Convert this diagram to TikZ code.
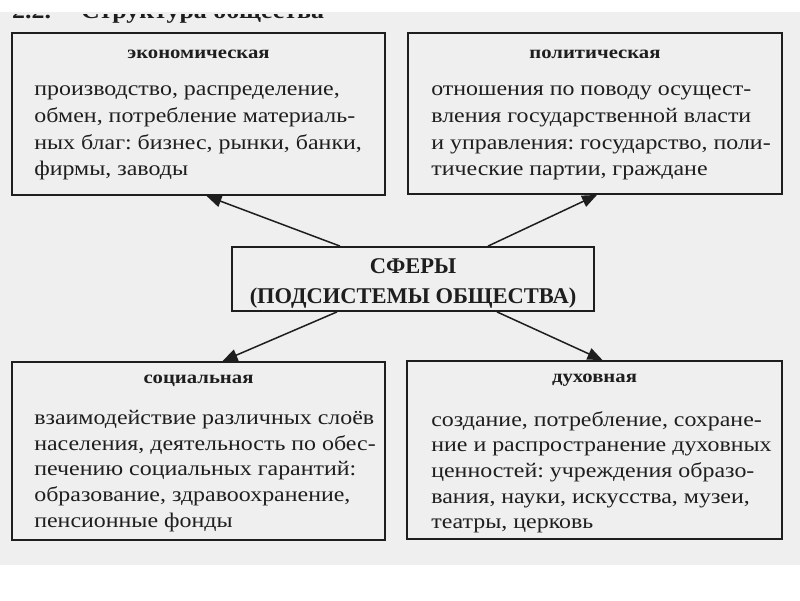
\documentclass[tikz,border=0pt]{standalone}
\usepackage{fontspec}
\setmainfont{Liberation Serif}[FakeStretch=1.15]
\newfontfamily\plainserif{Liberation Serif}
\usetikzlibrary{arrows.meta,calc}
\frenchspacing
\definecolor{ink}{HTML}{1E1E1E}
\definecolor{paper}{HTML}{EFEFEF}
\tikzset{
  sbox/.style={draw=ink, line width=1.8pt, fill=paper, inner sep=0pt},
  btitle/.style={font=\fontsize{18}{20}\selectfont\bfseries, text=ink, inner sep=0pt},
  body/.style={font=\fontsize{20.8}{26.7}\selectfont, text=ink, align=left, anchor=north west, inner sep=0pt},
  bodylow/.style={body, font=\fontsize{20.8}{25.7}\selectfont},
  arr/.style={draw=ink, line width=1.5pt, -{Triangle[length=15pt,width=12pt]}}
}
\begin{document}
\begin{tikzpicture}[x=1pt,y=-1pt]
\useasboundingbox (0,0) rectangle (800,600);
\fill[white] (0,0) rectangle (800,600);
\fill[paper] (0,12) rectangle (800,565);
\begin{scope}
  \clip (0,14) rectangle (800,40);
  \node[anchor=base west, inner sep=0pt, text=ink, font=\fontsize{22.5}{24}\selectfont\bfseries] (title) at (12,18.5) {2.2.\hspace{30pt}Структура общества};
\end{scope}
% boxes
\node[sbox, minimum width=373pt, minimum height=162pt] (econ) at (198.5,114) {};
\node[sbox, minimum width=374pt, minimum height=161pt] (polit) at (595,113.5) {};
\node[sbox, minimum width=362pt, minimum height=64pt] (center) at (413,279) {};
\node[sbox, minimum width=373pt, minimum height=178pt] (social) at (198.5,451) {};
\node[sbox, minimum width=375pt, minimum height=178pt] (spirit) at (594.5,450) {};
% titles
\node[btitle] (econT) at ($(econ.north)+(0,22)$) {экономическая};
\node[btitle] (politT) at ($(polit.north)+(0,22)$) {политическая};
\node[btitle] (socialT) at ($(social.north)+(0,20)$) {социальная};
\node[btitle] (spiritT) at ($(spirit.north)+(0,20)$) {духовная};
% center text
\node[font=\fontsize{22.5}{30}\selectfont\plainserif\bfseries, text=ink, align=center, inner sep=0pt] (centerT) at ($(center.center)+(0,4)$) {СФЕРЫ\\(ПОДСИСТЕМЫ ОБЩЕСТВА)};
% bodies
\node[body] (econB) at ($(econ.north west)+(23,53.5)$) {производство, распределение,\\обмен, потребление материаль-\\ных благ: бизнес, рынки, банки,\\фирмы, заводы};
\node[body] (politB) at ($(polit.north west)+(24,53.5)$) {отношения по поводу осущест-\\вления государственной власти\\и управления: государство, поли-\\тические партии, граждане};
\node[bodylow] (socialB) at ($(social.north west)+(23,49)$) {взаимодействие различных слоёв\\населения, деятельность по обес-\\печению социальных гарантий:\\образование, здравоохранение,\\пенсионные фонды};
\node[bodylow] (spiritB) at ($(spirit.north west)+(25,51)$) {создание, потребление, сохране-\\ние и распространение духовных\\ценностей: учреждения образо-\\вания, науки, искусства, музеи,\\театры, церковь};
% arrows
\draw[arr] ([xshift=-73pt]center.north) -- ([xshift=8pt]econ.south);
\draw[arr] ([xshift=75pt]center.north) -- ([xshift=2pt]polit.south);
\draw[arr] ([xshift=-76pt]center.south) -- ([xshift=24pt]social.north);
\draw[arr] ([xshift=84pt]center.south) -- ([xshift=8pt]spirit.north);
\end{tikzpicture}
\end{document}
